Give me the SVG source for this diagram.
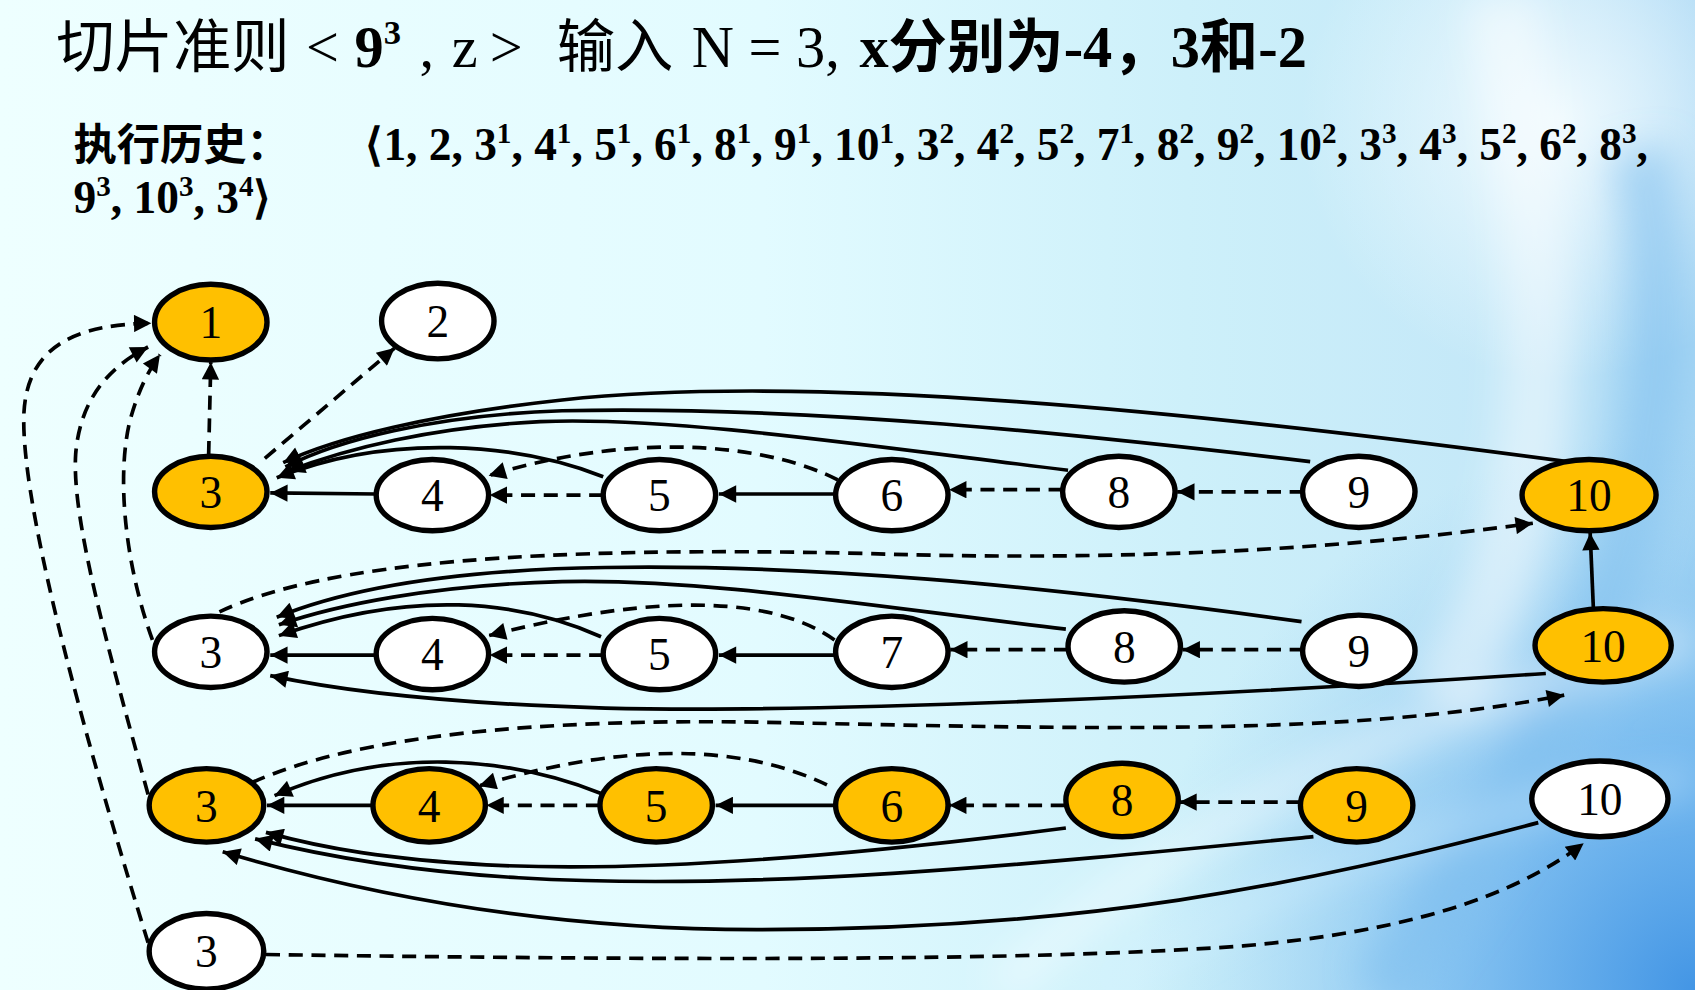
<svg xmlns="http://www.w3.org/2000/svg" width="1695" height="990" viewBox="0 0 1695 990">
<defs>
<linearGradient id="bgH" x1="0" y1="0" x2="1" y2="0">
<stop offset="0" stop-color="#EEFFFF"/>
<stop offset="0.45" stop-color="#E2FBFF"/>
<stop offset="0.7" stop-color="#CDF0FA"/>
<stop offset="0.88" stop-color="#C4E8F8"/>
<stop offset="1" stop-color="#A6D6F4"/>
</linearGradient>
<radialGradient id="bgBR" cx="1695" cy="990" r="560" gradientUnits="userSpaceOnUse">
<stop offset="0" stop-color="#3E92E4" stop-opacity="0.95"/>
<stop offset="0.45" stop-color="#5AA9EC" stop-opacity="0.6"/>
<stop offset="1" stop-color="#8CC8F0" stop-opacity="0"/>
</radialGradient>
<radialGradient id="bgTR" cx="1560" cy="120" r="260" gradientUnits="userSpaceOnUse">
<stop offset="0" stop-color="#F4FCFF" stop-opacity="0.9"/>
<stop offset="1" stop-color="#F4FCFF" stop-opacity="0"/>
</radialGradient>
<filter id="blur" x="-20%" y="-20%" width="140%" height="140%"><feGaussianBlur stdDeviation="18"/></filter>
<marker id="ah" viewBox="0 0 10 10" refX="10" refY="5" markerWidth="18" markerHeight="16" markerUnits="userSpaceOnUse" orient="auto">
<path d="M0,0 L10,5 L0,10 z" fill="#000"/>
</marker>
<style>
.node ellipse{stroke:#000;stroke-width:5}
.w{fill:#FFFFFF}
.o{fill:#FFC000}
.node text{font-family:"Liberation Serif","Times New Roman",serif;font-size:42px;fill:#000;text-anchor:middle}
#edges path{fill:none;stroke:#000;stroke-width:3.4;marker-end:url(#ah)}
#edges path.d{stroke-dasharray:13 8}
.cjk{font-family:"Noto Sans CJK SC","Noto Sans",sans-serif}
.ser{font-family:"Liberation Serif","Times New Roman",serif}
.title{font-size:54px;fill:#000}
.seq{font-family:"Liberation Serif","Times New Roman",serif;font-size:42px;font-weight:bold;fill:#000}
.sup{font-size:27px}
</style>
</defs>
<rect x="0" y="0" width="1695" height="990" fill="url(#bgH)"/>
<rect x="0" y="0" width="1695" height="990" fill="url(#bgBR)"/>
<rect x="0" y="0" width="1695" height="990" fill="url(#bgTR)"/>
<g filter="url(#blur)" fill="none">
<path d="M1640,150 C1700,450 1600,700 1380,990" stroke="#7FC0EE" stroke-width="60" opacity="0.55"/>
<path d="M1500,0 C1560,300 1560,520 1440,700" stroke="#FFFFFF" stroke-width="70" opacity="0.45"/>
<path d="M1000,990 C1200,800 1450,700 1695,640" stroke="#FFFFFF" stroke-width="40" opacity="0.35"/>
<path d="M1100,990 C1300,860 1500,800 1695,780" stroke="#D8F0FF" stroke-width="30" opacity="0.35"/>
</g>
<g transform="scale(1.081)">
<g id="title">
<text class="cjk title" x="52" y="62">切片准则</text>
<text class="ser title" x="283" y="62">&lt;</text>
<text class="ser title" x="328" y="62" font-weight="bold">9<tspan font-size="32" dy="-21">3</tspan></text>
<text class="ser title" x="388" y="62">,</text>
<text class="ser title" x="418" y="62">z</text>
<text class="ser title" x="453" y="62">&gt;</text>
<text class="cjk title" x="515" y="62">输入</text>
<text class="ser title" x="640" y="62">N = 3,</text>
<text class="title" x="795" y="62" font-weight="bold"><tspan class="ser">x</tspan><tspan class="cjk">分别为</tspan><tspan class="ser">-4</tspan><tspan class="cjk">，</tspan><tspan class="ser">3</tspan><tspan class="cjk">和</tspan><tspan class="ser">-2</tspan></text>
</g>
<g id="history">
<text class="cjk" x="68" y="148" font-size="40" font-weight="bold" fill="#000">执行历史：</text>
<text class="seq" x="338" y="148">⟨1, 2, 3<tspan class="sup" dy="-16">1</tspan><tspan dy="16">, 4</tspan><tspan class="sup" dy="-16">1</tspan><tspan dy="16">, 5</tspan><tspan class="sup" dy="-16">1</tspan><tspan dy="16">, 6</tspan><tspan class="sup" dy="-16">1</tspan><tspan dy="16">, 8</tspan><tspan class="sup" dy="-16">1</tspan><tspan dy="16">, 9</tspan><tspan class="sup" dy="-16">1</tspan><tspan dy="16">, 10</tspan><tspan class="sup" dy="-16">1</tspan><tspan dy="16">, 3</tspan><tspan class="sup" dy="-16">2</tspan><tspan dy="16">, 4</tspan><tspan class="sup" dy="-16">2</tspan><tspan dy="16">, 5</tspan><tspan class="sup" dy="-16">2</tspan><tspan dy="16">, 7</tspan><tspan class="sup" dy="-16">1</tspan><tspan dy="16">, 8</tspan><tspan class="sup" dy="-16">2</tspan><tspan dy="16">, 9</tspan><tspan class="sup" dy="-16">2</tspan><tspan dy="16">, 10</tspan><tspan class="sup" dy="-16">2</tspan><tspan dy="16">, 3</tspan><tspan class="sup" dy="-16">3</tspan><tspan dy="16">, 4</tspan><tspan class="sup" dy="-16">3</tspan><tspan dy="16">, 5</tspan><tspan class="sup" dy="-16">2</tspan><tspan dy="16">, 6</tspan><tspan class="sup" dy="-16">2</tspan><tspan dy="16">, 8</tspan><tspan class="sup" dy="-16">3</tspan><tspan dy="16">,</tspan></text>
<text class="seq" x="68" y="197">9<tspan class="sup" dy="-16">3</tspan><tspan dy="16">, 10</tspan><tspan class="sup" dy="-16">3</tspan><tspan dy="16">, 3</tspan><tspan class="sup" dy="-16">4</tspan><tspan dy="16">⟩</tspan></text>
</g>
<g id="edges">
<path class="d" d="M193,421 L195,335"/>
<path class="d" d="M245,424 L365,322"/>
<path class="d" d="M137,872 C90,720 20,480 22,385 C24,320 70,300 140,299"/>
<path class="d" d="M137,735 C100,600 66,480 70,420 C74,370 100,340 137,321"/>
<path class="d" d="M141,592 C115,520 108,440 120,390 C128,360 138,342 148,328"/>
<path d="M348,457 L250,456"/>
<path class="d" d="M558,458 L453,458"/>
<path d="M773,457 L665,457"/>
<path class="d" d="M983,453 L878,453"/>
<path class="d" d="M1206,455 L1089,455"/>
<path class="d" d="M775,444 C720,415 600,395 452,440"/>
<path d="M558,441 C480,410 360,400 256,442"/>
<path d="M1450,427 C1100,380 750,345 520,370 C400,383 310,405 262,428"/>
<path d="M1212,427 C1000,402 750,375 520,380 C400,384 310,408 264,432"/>
<path d="M988,435 C800,412 620,385 500,390 C400,395 320,415 266,436"/>
<path class="d" d="M203,566 C300,520 500,505 800,512 C1050,520 1250,507 1418,484"/>
<path d="M1474,563 L1471,493"/>
<path d="M348,606 L250,606"/>
<path class="d" d="M558,606 L453,606"/>
<path d="M773,606 L665,606"/>
<path class="d" d="M988,601 L879,601"/>
<path class="d" d="M1206,601 L1094,601"/>
<path class="d" d="M772,592 C720,555 620,545 452,588"/>
<path d="M556,589 C480,555 380,545 258,588"/>
<path d="M986,582 C800,560 650,535 520,538 C400,541 310,560 258,578"/>
<path d="M1204,575 C950,540 750,522 560,525 C420,527 320,545 256,571"/>
<path d="M1430,623 C1100,645 750,660 560,655 C420,651 320,640 250,625"/>
<path class="d" d="M233,724 C330,680 500,665 700,668 C1000,674 1250,682 1447,643"/>
<path d="M345,745 L247,745"/>
<path class="d" d="M555,745 L450,745"/>
<path d="M772,745 L662,745"/>
<path class="d" d="M985,745 L878,745"/>
<path class="d" d="M1203,742 L1091,742"/>
<path class="d" d="M765,726 C700,695 600,680 443,727"/>
<path d="M556,734 C470,700 360,690 254,736"/>
<path d="M986,766 C800,790 600,808 450,800 C360,795 300,785 246,770"/>
<path d="M1215,774 C950,800 700,825 480,812 C380,806 300,792 236,776"/>
<path d="M1423,761 C1200,820 1000,860 700,860 C500,860 330,825 206,788"/>
<path class="d" d="M246,883 C600,888 950,890 1150,875 C1300,862 1400,830 1465,780"/>
</g>
<g id="n1" class="node"><ellipse class="o" cx="195" cy="298" rx="52" ry="35"/><text x="195" y="313">1</text></g>
<g id="n2" class="node"><ellipse class="w" cx="405" cy="297" rx="52" ry="35"/><text x="405" y="312">2</text></g>
<g id="b3" class="node"><ellipse class="o" cx="195" cy="455" rx="52" ry="33"/><text x="195" y="470">3</text></g>
<g id="b4" class="node"><ellipse class="w" cx="400" cy="458" rx="52" ry="33"/><text x="400" y="473">4</text></g>
<g id="b5" class="node"><ellipse class="w" cx="610" cy="458" rx="52" ry="33"/><text x="610" y="473">5</text></g>
<g id="b6" class="node"><ellipse class="w" cx="825" cy="458" rx="52" ry="33"/><text x="825" y="473">6</text></g>
<g id="b8" class="node"><ellipse class="w" cx="1035" cy="455" rx="52" ry="33"/><text x="1035" y="470">8</text></g>
<g id="b9" class="node"><ellipse class="w" cx="1257" cy="455" rx="52" ry="33"/><text x="1257" y="470">9</text></g>
<g id="b10" class="node"><ellipse class="o" cx="1470" cy="458" rx="62" ry="33"/><text x="1470" y="473">10</text></g>
<g id="c3" class="node"><ellipse class="w" cx="195" cy="603" rx="52" ry="33"/><text x="195" y="618">3</text></g>
<g id="c4" class="node"><ellipse class="w" cx="400" cy="605" rx="52" ry="33"/><text x="400" y="620">4</text></g>
<g id="c5" class="node"><ellipse class="w" cx="610" cy="605" rx="52" ry="33"/><text x="610" y="620">5</text></g>
<g id="c7" class="node"><ellipse class="w" cx="825" cy="603" rx="52" ry="33"/><text x="825" y="618">7</text></g>
<g id="c8" class="node"><ellipse class="w" cx="1040" cy="598" rx="52" ry="33"/><text x="1040" y="613">8</text></g>
<g id="c9" class="node"><ellipse class="w" cx="1257" cy="602" rx="52" ry="33"/><text x="1257" y="617">9</text></g>
<g id="c10" class="node"><ellipse class="o" cx="1483" cy="597" rx="63" ry="34"/><text x="1483" y="612">10</text></g>
<g id="d3" class="node"><ellipse class="o" cx="191" cy="745" rx="53" ry="34"/><text x="191" y="760">3</text></g>
<g id="d4" class="node"><ellipse class="o" cx="397" cy="745" rx="52" ry="34"/><text x="397" y="760">4</text></g>
<g id="d5" class="node"><ellipse class="o" cx="607" cy="745" rx="52" ry="34"/><text x="607" y="760">5</text></g>
<g id="d6" class="node"><ellipse class="o" cx="825" cy="745" rx="52" ry="34"/><text x="825" y="760">6</text></g>
<g id="d8" class="node"><ellipse class="o" cx="1038" cy="740" rx="52" ry="34"/><text x="1038" y="755">8</text></g>
<g id="d9" class="node"><ellipse class="o" cx="1255" cy="745" rx="52" ry="34"/><text x="1255" y="760">9</text></g>
<g id="d10" class="node"><ellipse class="w" cx="1480" cy="739" rx="63" ry="35"/><text x="1480" y="754">10</text></g>
<g id="e3" class="node"><ellipse class="w" cx="191" cy="880" rx="53" ry="35"/><text x="191" y="895">3</text></g>
</g>
</svg>
